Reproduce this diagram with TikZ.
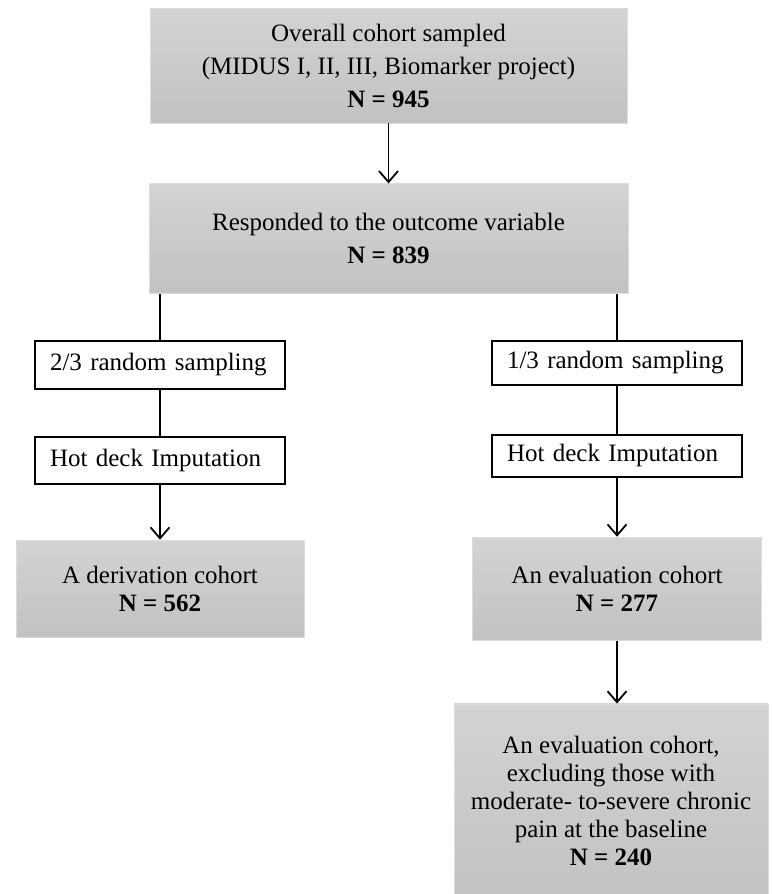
\documentclass[tikz,border=0pt]{standalone}
\usepackage{fontspec}
\setmainfont{Liberation Serif}
\usepackage{tikz}
\usetikzlibrary{positioning,arrows.meta}

\definecolor{boxtop}{HTML}{D3D3D3}
\definecolor{boxbot}{HTML}{C2C2C2}
\definecolor{boxedge}{HTML}{DCDCDC}

\tikzset{
	cohort/.style={draw=boxedge,line width=0.8pt,top color=boxtop,bottom color=boxbot,
		align=center,font=\fontsize{25}{28}\selectfont,inner sep=0pt},
	sampbox/.style={draw,line width=1.8pt,fill=white,align=left,text width=220pt,
		inner xsep=15pt,inner ysep=0pt,font=\fontsize{25}{28}\selectfont},
	link/.style={line width=1.8pt},
	arr/.style={line width=1.8pt,-{Straight Barb[length=11pt,width=19pt,line width=1.8pt]}}
}

\begin{document}
\begin{tikzpicture}[x=1pt,y=1pt]
	\useasboundingbox (0,0) rectangle (771,-894);

	\node[cohort,minimum width=477pt,minimum height=115pt,font=\fontsize{25}{33}\selectfont] (overall) at (388.5,-65.5)
		{Overall cohort sampled\\(MIDUS I, II, III, Biomarker project)\\\textbf{N = 945}};
	\node[cohort,minimum width=479pt,minimum height=110pt,font=\fontsize{25}{33}\selectfont] (respond) [below=60pt of overall]
		{Responded to the outcome variable\\\textbf{N = 839}};

	% left branch
	\node[sampbox,minimum height=48pt] (samp2) at (160,-365) {2/3 random sampling};
	\node[sampbox,minimum height=47pt] (hot2) [below=46pt of samp2] {Hot deck Imputation};
	\node[cohort,minimum width=288pt,minimum height=97pt] (deriv) [below=55pt of hot2]
		{A derivation cohort\\\textbf{N = 562}};

	% right branch
	\node[sampbox,minimum height=44pt] (samp1) at (617,-363) {1/3 random sampling};
	\node[sampbox,minimum height=42pt] (hot1) [below=48pt of samp1] {Hot deck Imputation};
	\node[cohort,minimum width=289pt,minimum height=103pt] (evalc) [below=59pt of hot1]
		{An evaluation cohort\\\textbf{N = 277}};
	\node[cohort,minimum width=314pt,minimum height=194pt] (final) [below=63pt of evalc,xshift=-6pt]
		{An evaluation cohort,\\excluding those with\\moderate- to-severe chronic\\pain at the baseline\\\textbf{N = 240}};

	\draw[arr] (overall) -- (respond);
	\draw[link] (respond.south -| samp2.north) -- (samp2);
	\draw[link] (samp2) -- (hot2);
	\draw[arr] (hot2) -- (deriv);
	\draw[link] (respond.south -| samp1.north) -- (samp1);
	\draw[link] (samp1) -- (hot1);
	\draw[arr] (hot1) -- (hot1.south |- evalc.north);
	\draw[arr] (evalc.south -| hot1.south) -- (hot1.south |- final.north);
\end{tikzpicture}
\end{document}
